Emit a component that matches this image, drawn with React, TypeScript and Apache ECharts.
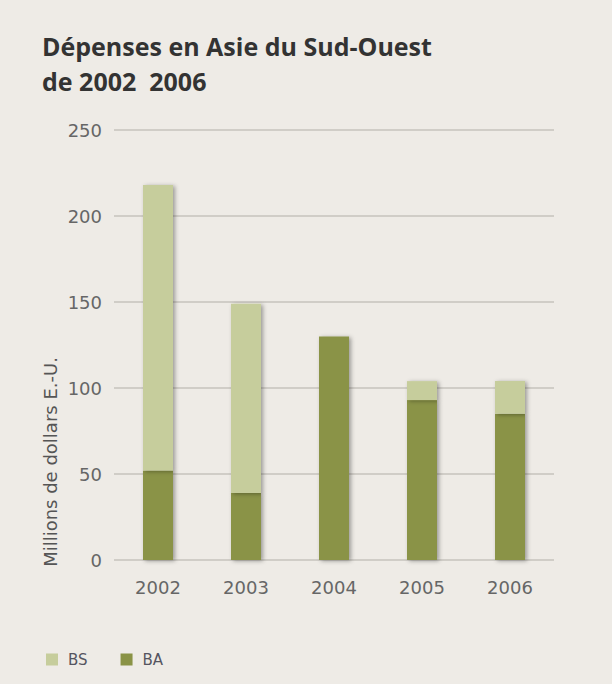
import React, { useEffect, useRef } from "react";
import * as echarts from "echarts";

const years = ["2002", "2003", "2004", "2005", "2006"];
const baValues = [52, 39, 130, 93, 85];
const bsValues = [166, 110, 0, 11, 19];
const yTicks = { min: 0, max: 250, interval: 50 };
const titleLines = ["Dépenses en Asie du Sud-Ouest", "de 2002  2006"];
const yName = "Millions de dollars E.-U.";

export default function App() {
  const ref = useRef<HTMLDivElement>(null);
  useEffect(() => {
    if (!ref.current) return;
    const chart = echarts.init(ref.current, null, { renderer: "svg" });
    const shadow = {
      shadowBlur: 4,
      shadowColor: "rgba(0,0,0,0.35)",
      shadowOffsetX: 2,
      shadowOffsetY: 1,
    };
    const titleStyle = {
      fontFamily: "Open Sans",
      fontWeight: "bold",
      fontSize: 25,
      fill: "#333333",
      align: "left",
      verticalAlign: "middle",
    };
    chart.setOption({
      animation: false,
      backgroundColor: "#eeebe6",
      graphic: [
        { type: "text", x: 42, y: 46, style: { text: titleLines[0], ...titleStyle } },
        { type: "text", x: 42, y: 80.5, style: { text: titleLines[1], ...titleStyle } },
        {
          type: "text",
          x: 50,
          y: 462,
          rotation: Math.PI / 2,
          style: {
            text: yName,
            fontFamily: "DejaVu Sans",
            fontSize: 18,
            fill: "#555555",
            align: "center",
            verticalAlign: "middle",
          },
        },
      ],
      legend: {
        data: ["BS", "BA"],
        left: 41,
        top: 647,
        itemWidth: 12,
        itemHeight: 12,
        itemGap: 33,
        icon: "rect",
        textStyle: {
          fontFamily: "DejaVu Sans",
          fontSize: 15,
          color: "#555560",
          padding: [0, 0, 0, 5],
        },
      },
      grid: { left: 114, right: 58, top: 130, bottom: 124 },
      xAxis: {
        type: "category",
        data: years,
        axisLine: { show: false },
        axisTick: { show: false },
        axisLabel: {
          fontFamily: "DejaVu Sans",
          fontSize: 18,
          color: "#666666",
          margin: 18,
        },
      },
      yAxis: {
        type: "value",
        min: yTicks.min,
        max: yTicks.max,
        interval: yTicks.interval,
        axisLine: { show: false },
        axisTick: { show: false },
        axisLabel: {
          fontFamily: "DejaVu Sans",
          fontSize: 18,
          color: "#666666",
          margin: 12,
        },
        splitLine: { lineStyle: { color: "#c6c3bd", width: 1.5 } },
      },
      series: [
        {
          name: "BA",
          type: "bar",
          stack: "total",
          data: baValues,
          barWidth: 30,
          itemStyle: { color: "#8a9346", ...shadow },
        },
        {
          name: "BS",
          type: "bar",
          stack: "total",
          data: bsValues,
          barWidth: 30,
          itemStyle: { color: "#c6cd9c", ...shadow },
        },
      ],
    });
    return () => chart.dispose();
  }, []);
  return (
    <div
      ref={ref}
      style={{ position: "fixed", left: 0, top: 0, width: 612, height: 684 }}
    />
  );
}
